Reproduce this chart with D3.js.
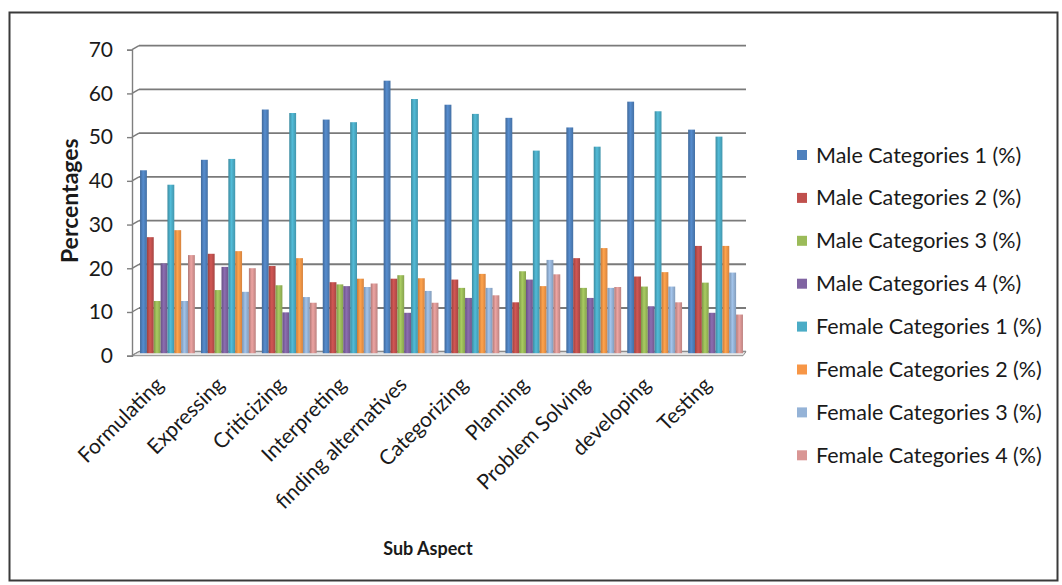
<!DOCTYPE html>
<html>
<head>
<meta charset="utf-8">
<script src="https://cdn.jsdelivr.net/npm/d3@7"></script>
<style>
  html, body { margin: 0; padding: 0; background: #ffffff; }
  svg { display: block; }
  text { font-family: Lato, "Open Sans", "DejaVu Sans", sans-serif; fill: #1a1a1a; }
</style>
</head>
<body>
<svg id="chart" width="1062" height="585"></svg>
<script>
// Sub aspects on the x axis
const categories = ["Formulating", "Expressing", "Criticizing", "Interpreting", "finding alternatives",
  "Categorizing", "Planning", "Problem Solving", "developing", "Testing"];

// Series names (legend order)
const seriesNames = ["Male Categories 1 (%)", "Male Categories 2 (%)", "Male Categories 3 (%)", "Male Categories 4 (%)",
  "Female Categories 1 (%)", "Female Categories 2 (%)", "Female Categories 3 (%)", "Female Categories 4 (%)"];

// Percentages per series, one value per sub aspect
const male1   = [41.5, 43.9, 55.4, 53.1, 62, 56.5, 53.5, 51.3, 57.2, 50.8];
const male2   = [26.2, 22.4, 19.6, 15.9, 16.7, 16.5, 11.3, 21.4, 17.2, 24.2];
const male3   = [11.6, 14.1, 15.2, 15.4, 17.5, 14.6, 18.4, 14.6, 14.9, 15.8];
const male4   = [20.2, 19.4, 9, 15, 8.9, 12.3, 16.5, 12.3, 10.4, 8.9];
const female1 = [38.2, 44.1, 54.6, 52.5, 57.8, 54.4, 46, 46.9, 55, 49.2];
const female2 = [27.8, 23, 21.4, 16.7, 16.8, 17.8, 15, 23.7, 18.2, 24.2];
const female3 = [11.6, 13.7, 12.5, 14.8, 13.9, 14.6, 21, 14.6, 14.9, 18.1];
const female4 = [22.1, 19.1, 11.2, 15.6, 11.2, 12.9, 17.7, 14.8, 11.3, 8.5];

const yTicks = [0, 10, 20, 30, 40, 50, 60, 70];

const seriesValues = [male1, male2, male3, male4, female1, female2, female3, female4];
const colors = ["#4F81BD", "#C0504D", "#9BBB59", "#8064A2", "#4BACC6", "#F79646", "#95B3D7", "#D99694"];

const svg = d3.select("#chart");

// Outer chart frame
svg.append("rect").attr("x", 9.5).attr("y", 12.5).attr("width", 1048).attr("height", 568)
  .attr("fill", "#ffffff").attr("stroke", "#3a3a3a").attr("stroke-width", 2);

// Plot geometry (front axis plane and back wall offset for the 3D look)
const axisX = 132, right = 746, depthX = 7, depthY = -4;
const y = d3.scaleLinear().domain([0, 70]).range([351.7, 45.7]);
const x = d3.scaleBand().domain(categories).range([137, right]).paddingInner(0.1).paddingOuter(0.05);
const xs = d3.scaleBand().domain(d3.range(seriesValues.length)).range([0, x.bandwidth()]);

// Bar gradients: darker edges, lighter middle
const defs = svg.append("defs");
colors.forEach((c, i) => {
  const g = defs.append("linearGradient").attr("id", "g" + i).attr("x1", "0").attr("x2", "1").attr("y1", "0").attr("y2", "0");
  const base = d3.color(c);
  g.append("stop").attr("offset", "0%").attr("stop-color", base.darker(0.6));
  g.append("stop").attr("offset", "45%").attr("stop-color", base.brighter(0.25));
  g.append("stop").attr("offset", "100%").attr("stop-color", base.darker(0.4));
});

// Gridlines on the back wall, with the diagonal joining the axis
const grid = svg.append("g");
yTicks.forEach(t => {
  const yy = y(t);
  grid.append("line").attr("x1", axisX + depthX).attr("x2", right).attr("y1", yy).attr("y2", yy)
    .attr("stroke", "#7a7a7a").attr("stroke-width", 1.8);
  grid.append("line").attr("x1", axisX).attr("x2", axisX + depthX).attr("y1", yy - depthY).attr("y2", yy)
    .attr("stroke", "#7a7a7a").attr("stroke-width", 1.4);
});

// Floor of the plot
svg.append("path")
  .attr("d", `M${axisX},${y(0) - depthY}L${axisX + depthX},${y(0)}L${right},${y(0)}L${right - 3},${y(0) - depthY}Z`)
  .attr("fill", "#e6e6e6").attr("stroke", "#8c8c8c").attr("stroke-width", 1);

// Y axis line and ticks (front plane)
const yAxis = d3.axisLeft(d3.scaleLinear().domain([0, 70]).range([y(0) - depthY, y(70) - depthY]))
  .tickValues(yTicks).tickSize(5).tickPadding(14);
const ya = svg.append("g").attr("transform", `translate(${axisX},0)`).call(yAxis);
ya.select(".domain").attr("stroke", "#7f7f7f").attr("stroke-width", 1.4);
ya.selectAll(".tick line").attr("stroke", "#7f7f7f").attr("stroke-width", 1.4);
ya.selectAll(".tick text").style("font-size", "21px").attr("fill", "#1a1a1a")
  .style("font-family", "Lato, 'Open Sans', sans-serif");

// Bars
const groups = svg.append("g").selectAll("g").data(categories).join("g")
  .attr("transform", d => `translate(${x(d)},0)`);
groups.selectAll("rect")
  .data((d, ci) => seriesValues.map((vals, si) => ({ si, v: vals[ci] })))
  .join("rect")
  .attr("x", d => xs(d.si))
  .attr("width", xs.bandwidth())
  .attr("y", d => y(d.v))
  .attr("height", d => y(0) + 1.5 - y(d.v))
  .attr("fill", d => `url(#g${d.si})`);

// Category labels (rotated)
const xl = svg.append("g");
categories.forEach(c => {
  const cx = x(c) + x.bandwidth() / 2 - 8;
  xl.append("text")
    .attr("transform", `translate(${cx},${y(0) + 29}) rotate(-45)`)
    .attr("text-anchor", "end")
    .attr("dy", "0.35em")
    .style("font-size", "21px")
    .text(c);
});

// Axis titles
svg.append("text")
  .attr("transform", `translate(78,${(y(0) + y(70)) / 2 + 2}) rotate(-90)`)
  .attr("text-anchor", "middle")
  .style("font-size", "23px").style("font-weight", "bold")
  .text("Percentages");
svg.append("text")
  .attr("x", 428).attr("y", 555)
  .attr("text-anchor", "middle")
  .style("font-size", "18px").style("font-weight", "bold")
  .text("Sub Aspect");

// Legend
const legend = svg.append("g").attr("transform", "translate(797,155)");
seriesNames.forEach((name, i) => {
  const row = legend.append("g").attr("transform", `translate(0,${i * 42.9})`);
  row.append("rect").attr("x", 0).attr("y", -5).attr("width", 10).attr("height", 10).attr("fill", colors[i]);
  row.append("text").attr("x", 19).attr("y", 0).attr("dy", "0.35em")
    .style("font-size", "21.5px").text(name);
});
</script>
</body>
</html>
